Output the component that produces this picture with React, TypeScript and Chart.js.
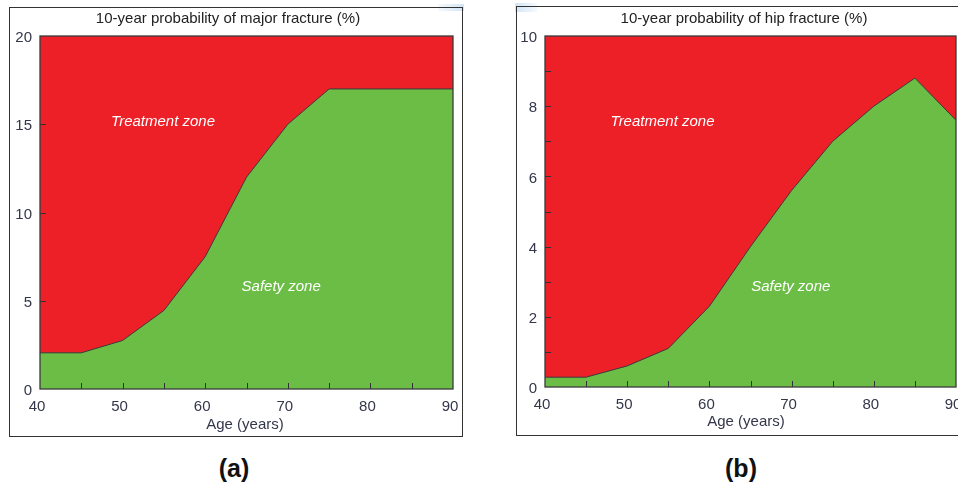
import React, { useEffect, useRef } from 'react';
import { Chart, registerables } from 'chart.js';

Chart.register(...registerables);

// ---------- data ----------
const ages = [40, 45, 50, 55, 60, 65, 70, 75, 80, 85, 90];
const majorFracture = [2.05, 2.05, 2.75, 4.45, 7.5, 12, 15, 17, 17, 17, 17];
const hipFracture = [0.28, 0.28, 0.6, 1.1, 2.3, 4.0, 5.6, 7.0, 8.0, 8.8, 7.6];
const xTickLabels = [40, 50, 60, 70, 80, 90];
const xTickMarks = [45, 50, 55, 60, 65, 70, 75, 80, 85];
const majorYTicks = [0, 5, 10, 15, 20];
const majorYMarks = [5, 10, 15];
const hipYTicks = [0, 2, 4, 6, 8, 10];
const hipYMarks = [1, 2, 3, 4, 5, 6, 7, 8, 9];
const majorTitle = '10-year probability of major fracture (%)';
const hipTitle = '10-year probability of hip fracture (%)';
const xAxisTitle = 'Age (years)';
const treatmentLabel = 'Treatment zone';
const safetyLabel = 'Safety zone';

const RED = '#ED1F27';
const GREEN = '#6CBD45';
const DARK = '#333';
const TICK_COLOR = '#34364a';
const FONT = '"Liberation Sans", Arial, Helvetica, sans-serif';

type PanelProps = {
  values: number[];
  yMax: number;
  yTicks: number[];
  yMarks: number[];
  title: string;
  left: number;
  top: number;
  width: number;
  height: number;
  padTop: number;
  padRight: number;
  yWidth: number;
  xHeight: number;
  titlePos: [number, number];
  axisTitlePos: [number, number];
  treatmentAt: [number, number];
  safetyAt: [number, number];
};

function Panel(p: PanelProps) {
  const ref = useRef<HTMLCanvasElement | null>(null);
  useEffect(() => {
    if (!ref.current) return;
    const decor = {
      id: 'decor',
      beforeDatasetsDraw(chart: any) {
        const { ctx, chartArea: a } = chart;
        ctx.save();
        ctx.fillStyle = RED;
        ctx.fillRect(a.left, a.top, a.right - a.left, a.bottom - a.top);
        ctx.restore();
      },
      afterDatasetsDraw(chart: any) {
        const { ctx, chartArea: a } = chart;
        const xs = chart.scales.x;
        const ys = chart.scales.y;
        ctx.save();
        ctx.strokeStyle = DARK;
        ctx.lineWidth = 1;
        ctx.beginPath();
        xTickMarks.forEach((v) => {
          const px = Math.round(xs.getPixelForValue(v)) + 0.5;
          ctx.moveTo(px, a.bottom);
          ctx.lineTo(px, a.bottom - 6);
        });
        p.yMarks.forEach((v) => {
          const py = Math.round(ys.getPixelForValue(v)) + 0.5;
          ctx.moveTo(a.left, py);
          ctx.lineTo(a.left + 6, py);
        });
        ctx.stroke();
        ctx.lineWidth = 1.3;
        ctx.strokeStyle = '#3a3a3a';
        ctx.strokeRect(a.left, a.top, a.right - a.left, a.bottom - a.top);
        ctx.fillStyle = '#ffffff';
        ctx.font = `italic 15px ${FONT}`;
        ctx.textAlign = 'center';
        ctx.textBaseline = 'middle';
        ctx.fillText(treatmentLabel, xs.getPixelForValue(p.treatmentAt[0]), ys.getPixelForValue(p.treatmentAt[1]));
        ctx.fillText(safetyLabel, xs.getPixelForValue(p.safetyAt[0]), ys.getPixelForValue(p.safetyAt[1]));
        ctx.restore();
      },
      afterDraw(chart: any) {
        const { ctx } = chart;
        ctx.save();
        ctx.fillStyle = '#222';
        ctx.font = `15px ${FONT}`;
        ctx.textAlign = 'center';
        ctx.textBaseline = 'middle';
        ctx.fillText(p.title, p.titlePos[0], p.titlePos[1]);
        ctx.fillStyle = TICK_COLOR;
        ctx.fillText(xAxisTitle, p.axisTitlePos[0], p.axisTitlePos[1]);
        ctx.restore();
      },
    };
    const chart = new Chart(ref.current, {
      type: 'line',
      data: {
        datasets: [
          {
            data: ages.map((a, i) => ({ x: a, y: p.values[i] })),
            fill: 'origin',
            backgroundColor: GREEN,
            borderColor: '#3a3a3a',
            borderWidth: 1,
            pointRadius: 0,
            tension: 0,
          },
        ],
      },
      options: {
        animation: false,
        responsive: false,
        maintainAspectRatio: false,
        layout: { padding: { top: p.padTop, right: p.padRight, left: 0, bottom: 0 } },
        plugins: {
          legend: { display: false },
          tooltip: { enabled: false },
          title: { display: false },
        },
        scales: {
          x: {
            type: 'linear',
            min: 40,
            max: 90,
            grid: { display: false, drawTicks: false },
            border: { display: false },
            ticks: {
              padding: 9,
              labelOffset: -3,
              color: TICK_COLOR,
              font: { family: FONT, size: 15 },
              maxRotation: 0,
              autoSkip: false,
            },
            afterBuildTicks: (s: any) => {
              s.ticks = xTickLabels.map((v) => ({ value: v }));
            },
            afterFit: (s: any) => {
              s.height = p.xHeight;
              s.paddingLeft = 0;
              s.paddingRight = 0;
            },
          },
          y: {
            type: 'linear',
            min: 0,
            max: p.yMax,
            grid: { display: false, drawTicks: false },
            border: { display: false },
            ticks: {
              padding: 8,
              labelOffset: 2,
              color: TICK_COLOR,
              font: { family: FONT, size: 15 },
              autoSkip: false,
            },
            afterBuildTicks: (s: any) => {
              s.ticks = p.yTicks.map((v) => ({ value: v }));
            },
            afterFit: (s: any) => {
              s.width = p.yWidth;
              s.paddingTop = 0;
              s.paddingBottom = 0;
            },
          },
        },
      } as any,
      plugins: [decor],
    });
    return () => chart.destroy();
  }, []);
  return (
    <canvas
      ref={ref}
      width={p.width}
      height={p.height}
      style={{ position: 'absolute', left: p.left, top: p.top, width: p.width, height: p.height }}
    />
  );
}

const labelStyle: React.CSSProperties = {
  position: 'absolute',
  top: 453,
  width: 100,
  textAlign: 'center',
  fontWeight: 'bold',
  fontSize: 25,
  lineHeight: '30px',
  color: '#111',
};

export default function App() {
  return (
    <div
      style={{
        position: 'absolute',
        left: 0,
        top: 0,
        width: 958,
        height: 484,
        overflow: 'hidden',
        background: '#fff',
        fontFamily: FONT,
      }}
    >
      <div
        style={{
          position: 'absolute',
          left: 438,
          top: 4,
          width: 26,
          height: 7,
          background: 'linear-gradient(to right, rgba(205,226,245,0.2), rgba(205,226,245,0.9))',
        }}
      />
      <div
        style={{
          position: 'absolute',
          left: 515,
          top: 3,
          width: 22,
          height: 9,
          background: 'linear-gradient(to right, rgba(205,226,245,0.9), rgba(205,226,245,0.2))',
        }}
      />
      <div
        style={{
          position: 'absolute',
          left: 9,
          top: 7,
          width: 454,
          height: 430,
          boxSizing: 'border-box',
          border: '1px solid #333',
        }}
      />
      <div
        style={{
          position: 'absolute',
          left: 516,
          top: 6,
          width: 460,
          height: 430,
          boxSizing: 'border-box',
          border: '1px solid #333',
        }}
      />
      <Panel
        values={majorFracture}
        yMax={20}
        yTicks={majorYTicks}
        yMarks={majorYMarks}
        title={majorTitle}
        left={9}
        top={7}
        width={453}
        height={429}
        padTop={29}
        padRight={9}
        yWidth={31}
        xHeight={47}
        titlePos={[219, 12]}
        axisTitlePos={[236, 418]}
        treatmentAt={[54.9, 15.13]}
        safetyAt={[69.2, 5.78]}
      />
      <Panel
        values={hipFracture}
        yMax={10}
        yTicks={hipYTicks}
        yMarks={hipYMarks}
        title={hipTitle}
        left={516}
        top={6}
        width={453}
        height={429}
        padTop={30}
        padRight={13}
        yWidth={29}
        xHeight={48}
        titlePos={[228, 13]}
        axisTitlePos={[230, 416]}
        treatmentAt={[54.3, 7.55]}
        safetyAt={[69.9, 2.85]}
      />
      <div style={{ ...labelStyle, left: 184 }}>(a)</div>
      <div style={{ ...labelStyle, left: 691 }}>(b)</div>
    </div>
  );
}
